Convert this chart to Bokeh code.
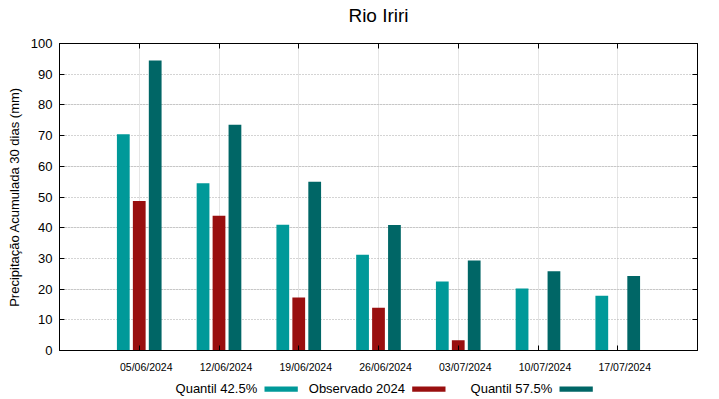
import numpy as np
from bokeh.plotting import figure
from bokeh.layouts import column
from bokeh.models import Range1d, LinearAxis, FixedTicker, ColumnDataSource, Grid
from bokeh.core.properties import value
from bokeh.transform import dodge
from bokeh.embed import file_html
from bokeh.resources import INLINE

# ---- data ----
dates = ["05/06/2024", "12/06/2024", "19/06/2024", "26/06/2024",
         "03/07/2024", "10/07/2024", "17/07/2024"]
q425 = [70.4, 54.5, 41.0, 31.2, 22.5, 20.2, 17.8]
obs = [48.7, 43.9, 17.3, 13.9, 3.3, np.nan, np.nan]
q575 = [94.5, 73.5, 55.0, 40.9, 29.3, 25.8, 24.3]
series_names = ["Quantil 42.5%", "Observado 2024", "Quantil 57.5%"]
colors = ["#009999", "#990f0f", "#006666"]
yticks = list(range(0, 101, 10))
title = "Rio Iriri"
ylabel = "Precipitação Acumulada 30 dias (mm)"

FONT = "Liberation Sans"
W = 703
FL, FR = 59, 697          # frame left / right edge (px) shared by all rows
pos = list(range(len(dates)))
src = ColumnDataSource(dict(x=pos, q425=q425, obs=np.array(obs, dtype=float), q575=q575))


def strip(h, xr):
    f = figure(width=W, height=h, x_range=xr, y_range=Range1d(h, 0),
               output_backend="svg", toolbar_location=None,
               x_axis_location=None, y_axis_location=None,
               min_border_left=FL, min_border_right=W - FR,
               min_border_top=0, min_border_bottom=0)
    f.outline_line_color = None
    f.background_fill_color = "white"
    f.border_fill_color = "white"
    f.xgrid.visible = False
    f.ygrid.visible = False
    return f


# ---- title row ----
TH = 26
tfig = strip(TH, Range1d(0, 1))
tfig.text(x=[0.5], y=[15], text=[title], text_align="center", text_baseline="middle",
          text_font=value(FONT), text_font_size=value("19px"), text_color="black")

# ---- main chart ----
p = figure(width=W, height=350, x_range=Range1d(-1, len(dates)), y_range=Range1d(0, 100),
           output_backend="svg", toolbar_location=None,
           x_axis_location=None, y_axis_location=None,
           min_border_left=FL, min_border_right=W - FR, min_border_top=17, min_border_bottom=26)
p.extra_x_ranges = {"lab": Range1d(-1 - 0.088, len(dates) - 0.088)}

p.outline_line_color = "black"
p.outline_line_width = 1
p.background_fill_color = "white"
p.border_fill_color = "white"

grid = Grid(dimension=1, ticker=FixedTicker(ticks=yticks[1:-1]),
            grid_line_color="#a8a8a8", grid_line_dash="1 2", grid_line_width=1)
p.add_layout(grid, "center")

w = 0.16
cols = ["q425", "obs", "q575"]
offs = [-0.2, 0.0, 0.2]
for c, o, col in zip(cols, offs, colors):
    p.vbar(x=dodge("x", o, range=p.x_range), top=c, width=w, source=src,
           fill_color=col, line_color=None)


def blank(ticks):
    return {t: "" for t in ticks}


left = LinearAxis(ticker=FixedTicker(ticks=yticks), axis_label=ylabel,
                  major_tick_in=5, major_tick_out=0, minor_tick_in=0, minor_tick_out=0,
                  major_label_standoff=7, axis_label_standoff=6,
                  major_label_text_font=FONT, major_label_text_font_size="13px",
                  major_label_text_color="black",
                  axis_label_text_font=FONT, axis_label_text_font_size="13px",
                  axis_label_text_font_style="normal", axis_label_text_color="black",
                  axis_line_color="black")
p.add_layout(left, "left")

right = LinearAxis(ticker=FixedTicker(ticks=yticks), major_label_overrides=blank(yticks),
                   major_label_text_font_size="0px", major_label_standoff=0,
                   major_tick_in=5, major_tick_out=0, minor_tick_in=0, minor_tick_out=0,
                   axis_line_color="black")
p.add_layout(right, "right")

top = LinearAxis(ticker=FixedTicker(ticks=pos), major_label_overrides=blank(pos),
                 major_label_text_font_size="0px", major_label_standoff=0,
                 major_tick_in=5, major_tick_out=0, minor_tick_in=0, minor_tick_out=0,
                 axis_line_color="black")
p.add_layout(top, "above")

bticks = LinearAxis(ticker=FixedTicker(ticks=pos), major_label_overrides=blank(pos),
                    major_label_text_font_size="0px", major_label_standoff=0,
                    major_tick_in=5, major_tick_out=0, minor_tick_in=0, minor_tick_out=0,
                    axis_line_color="black")
p.add_layout(bticks, "below")

blab = LinearAxis(x_range_name="lab", ticker=FixedTicker(ticks=pos),
                  major_label_overrides={i: d for i, d in zip(pos, dates)},
                  major_tick_in=0, major_tick_out=0, minor_tick_in=0, minor_tick_out=0,
                  major_label_standoff=10, axis_line_color=None,
                  major_label_text_font=FONT, major_label_text_font_size="10.5px",
                  major_label_text_color="black")
p.add_layout(blab, "below")

# ---- legend row: label followed by its colour swatch, as in the original ----
LH = 20
leg = strip(LH, Range1d(FL, FR))
sw_left = [264.0, 411.7, 559.0]
sw_w, sw_top, sw_bot = 33.3, 10.0, 15.3
leg.quad(left=sw_left, right=[s + sw_w for s in sw_left], top=[sw_top] * 3,
         bottom=[sw_bot] * 3, fill_color=colors, line_color=None)
leg.text(x=[s - 7.3 for s in sw_left], y=[12.0] * 3, text=series_names,
         text_align="right", text_baseline="middle",
         text_font=value(FONT), text_font_size=value("13px"), text_color="black")

layout = column(tfig, p, leg, spacing=0)
open("out.html", "w").write(file_html(layout, INLINE))
